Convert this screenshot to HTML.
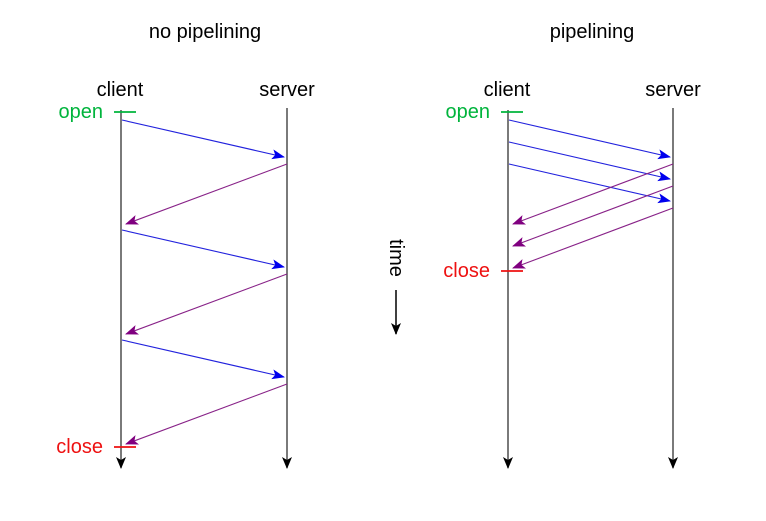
<!DOCTYPE html>
<html><head><meta charset="utf-8"><style>
body{margin:0;background:#fff}
svg{display:block;font-family:"Liberation Sans",Arial,sans-serif}
</style></head><body>
<svg id="d" width="766" height="521" viewBox="0 0 766 521">
<defs>
<marker id="ab" markerWidth="13" markerHeight="10" refX="12" refY="5" orient="auto" markerUnits="userSpaceOnUse"><path d="M0,0 L13,5 L0,10 L3,5 z" fill="#0000ee"/></marker>
<marker id="ap" markerWidth="13" markerHeight="10" refX="12" refY="5" orient="auto" markerUnits="userSpaceOnUse"><path d="M0,0 L13,5 L0,10 L3,5 z" fill="#800080"/></marker>
<marker id="ak" markerWidth="12" markerHeight="10" refX="11" refY="5" orient="auto" markerUnits="userSpaceOnUse"><path d="M0,0 L12,5 L0,10 L3,5 z" fill="#000"/></marker>
</defs>
<text x="205" y="38" font-size="20" text-anchor="middle">no pipelining</text>
<text x="592" y="38" font-size="20" text-anchor="middle">pipelining</text>
<g>
<text transform="translate(390,258) rotate(90)" font-size="20" text-anchor="middle">time</text>
<line x1="396" y1="290" x2="396" y2="334" stroke="#000" stroke-width="1.5" marker-end="url(#ak)"/>
</g>
<g id="g"></g>
</svg>
<script>
// diagram data: request send times (y) per panel
const panels = ["no pipelining","pipelining"];
const clientX = [121, 508];
const serverX = [287, 673];
const reqStart = [[120,230,340],[120,142,164]];
const reqEnd = [[157,267,377],[157,179,201]];
const respStart = [[164,274,384],[164,186,208]];
const respEnd = [[224,334,444],[224,246,268]];
const openY = [112,112];
const closeY = [447,271];
const NS="http://www.w3.org/2000/svg";
const g=document.getElementById('g');
function mk(t,a){const e=document.createElementNS(NS,t);for(const k in a)e.setAttribute(k,a[k]);g.appendChild(e);return e;}
panels.forEach((p,i)=>{
  const cx=clientX[i], sx=serverX[i];
  let e=mk('text',{x:cx-1,y:96,'font-size':20,'text-anchor':'middle'});e.textContent='client';
  
  
  e=mk('text',{x:sx,y:96,'font-size':20,'text-anchor':'middle'});e.textContent='server';
  
  
  e=mk('line',{x1:cx,y1:110,x2:cx,y2:468,stroke:'#333','stroke-width':1.3,'marker-end':'url(#ak)'});
  
  
  e=mk('line',{x1:sx,y1:108,x2:sx,y2:468,stroke:'#333','stroke-width':1.3,'marker-end':'url(#ak)'});
  
  
  e=mk('line',{x1:cx-7,y1:openY[i],x2:cx+15,y2:openY[i],stroke:'#00b43c','stroke-width':1.8});
  
  
  e=mk('text',{x:cx-18,y:openY[i]+6,'font-size':20,'text-anchor':'end',fill:'#00b43c'});e.textContent='open';
  
  
  e=mk('line',{x1:cx-7,y1:closeY[i],x2:cx+15,y2:closeY[i],stroke:'#ee1111','stroke-width':1.8});
  
  
  e=mk('text',{x:cx-18,y:closeY[i]+6,'font-size':20,'text-anchor':'end',fill:'#ee1111'});e.textContent='close';
  
  
  reqStart[i].forEach((y,j)=>{
    e=mk('line',{x1:cx+1,y1:y,x2:sx-3,y2:reqEnd[i][j],stroke:'#2222dd','stroke-width':1.1,'marker-end':'url(#ab)'});
    
    
  });
  respStart[i].forEach((y,j)=>{
    e=mk('line',{x1:sx,y1:y,x2:cx+5,y2:respEnd[i][j],stroke:'#882288','stroke-width':1.1,'marker-end':'url(#ap)'});
    
    
  });
});
</script>
</body></html>
